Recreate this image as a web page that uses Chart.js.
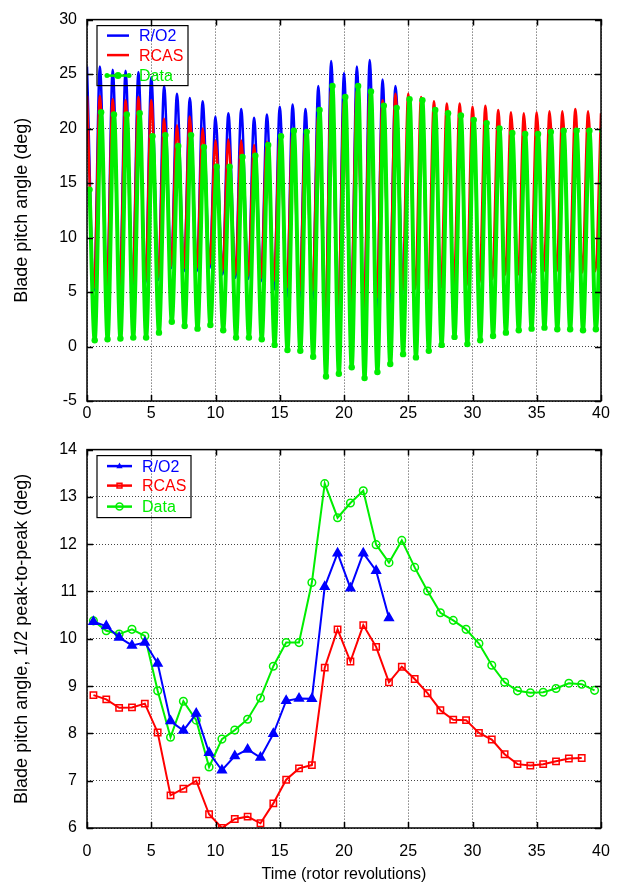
<!DOCTYPE html>
<html>
<head>
<meta charset="utf-8">
<script src="https://cdn.jsdelivr.net/npm/chart.js@4/dist/chart.umd.min.js"></script>
<style>
  body { margin: 0; background: #fff; }
  .wrap { position: absolute; left: 0; width: 624px; }
</style>
</head>
<body>
<div class="wrap" style="top:0;height:430px"><canvas id="pitchChart" width="624" height="430"></canvas></div>
<div class="wrap" style="top:430px;height:456px"><canvas id="ampChart" width="624" height="456"></canvas></div>
<script>
// pitch angle, top panel: one peak and one trough per rotor revolution (deg)
const ro2Peaks   = [25.7, 25.7, 25.4, 25.3, 25.2, 24.7, 23.9, 23.2, 22.8, 22.5, 21.1, 21.4, 21.8, 21.0, 21.3, 22.0, 22.2, 21.8, 23.9, 26.2, 25.1, 25.7, 26.3, 24.5, 23.9];
const ro2Troughs = [5.1, 5.1, 5.2, 5.5, 5.8, 6.1, 7.2, 6.9, 6.9, 7.2, 6.6, 6.3, 6.2, 6.0, 5.2, 4.5, 4.4, 4.15, 1.4, 2.4, 2.8, 2.0, 3.4, 3.7, 4.8];
const rcasPeaks   = [23.0, 23.0, 22.7, 22.6, 22.9, 22.6, 20.9, 20.3, 21.1, 20.0, 18.9, 19.0, 18.9, 18.5, 18.8, 19.4, 19.6, 19.7, 21.3, 23.6, 22.6, 23.5, 23.3, 22.6, 23.2, 23.2, 22.9, 22.5, 22.3, 22.3, 22.0, 22.1, 21.7, 21.5, 21.4, 21.5, 21.6, 21.6, 21.8, 21.6, 21.4];
const rcasTroughs = [5.4, 5.4, 5.5, 5.8, 6.0, 6.4, 7.4, 7.2, 7.2, 7.5, 6.9, 6.6, 6.5, 6.3, 6.0, 5.4, 5.1, 5.1, 2.8, 3.5, 3.8, 3.4, 4.45, 4.9, 5.1, 5.3, 5.3, 5.4, 5.5, 5.6, 5.9, 6.2, 6.6, 6.6, 6.8, 6.9, 6.9, 6.8, 6.8, 6.9];
const dataStart   = 14.4;
const dataPeaks   = [21.5, 21.3, 21.3, 21.4, 19.3, 19.4, 18.4, 19.4, 18.3, 16.5, 16.5, 17.4, 17.5, 18.5, 19.3, 19.8, 19.7, 21.7, 23.9, 22.9, 23.9, 23.4, 22.1, 21.9, 22.7, 22.6, 21.7, 21.4, 21.2, 20.8, 20.5, 20.0, 19.6, 19.5, 19.5, 19.7, 19.8, 19.8, 19.8, 19.8];
const dataTroughs = [0.58, 0.67, 0.73, 0.82, 0.82, 1.27, 2.27, 1.88, 1.64, 1.97, 1.49, 0.82, 0.82, 0.67, 0.15, -0.33, -0.39, -0.94, -2.75, -2.5, -1.9, -2.9, -2.35, -1.6, -0.7, -1.0, -0.4, 0.15, 0.88, 0.22, 0.58, 0.97, 1.27, 1.49, 1.64, 1.73, 1.58, 1.58, 1.49, 1.58];

// half peak-to-peak, bottom panel, one value per revolution (at rev + 0.5)
const ro2Amp  = [10.36, 10.27, 10.03, 9.86, 9.92, 9.48, 8.26, 8.06, 8.42, 7.59, 7.22, 7.52, 7.66, 7.49, 7.99, 8.69, 8.74, 8.73, 11.10, 11.81, 11.07, 11.81, 11.44, 10.44];
const rcasAmp = [8.81, 8.72, 8.54, 8.55, 8.63, 8.02, 6.69, 6.83, 7.00, 6.29, 6.00, 6.19, 6.24, 6.10, 6.52, 7.02, 7.26, 7.33, 9.39, 10.20, 9.52, 10.29, 9.83, 9.08, 9.41, 9.15, 8.85, 8.49, 8.29, 8.28, 8.01, 7.87, 7.56, 7.35, 7.32, 7.35, 7.41, 7.47, 7.48];
const dataAmp = [10.38, 10.17, 10.10, 10.20, 10.06, 8.90, 7.92, 8.68, 8.28, 7.29, 7.88, 8.07, 8.30, 8.75, 9.42, 9.92, 9.92, 11.19, 13.28, 12.56, 12.87, 13.13, 11.99, 11.61, 12.08, 11.51, 11.01, 10.55, 10.39, 10.20, 9.90, 9.44, 9.08, 8.90, 8.86, 8.87, 8.95, 9.06, 9.04, 8.91];

const xTicks = [0, 5, 10, 15, 20, 25, 30, 35, 40];

const FONT = 'Liberation Sans, Arial, Helvetica, sans-serif';
const BLUE = '#0000ff', RED = '#ff0000', GREEN = '#00ee00';

// peaks/troughs -> {x, y} points; peak i sits at rev i + peakPhase, trough i at rev i + troughPhase
function wave(peaks, peakPhase, peakFirst, troughs, troughPhase) {
  const pts = [];
  peaks.forEach((v, i) => pts.push({ x: i + peakFirst + peakPhase, y: v }));
  troughs.forEach((v, i) => pts.push({ x: i + troughPhase, y: v }));
  return pts.sort((a, b) => a.x - b.x);
}
function perRev(values) {
  return values.map((v, i) => ({ x: i + 0.5, y: v }));
}

function drawMarker(ctx, style, x, y, r, color) {
  ctx.save();
  ctx.strokeStyle = color; ctx.fillStyle = color; ctx.lineWidth = 1.5;
  ctx.beginPath();
  if (style === 'triangle') {
    ctx.moveTo(x, y - r); ctx.lineTo(x + r * 0.9, y + r * 0.6); ctx.lineTo(x - r * 0.9, y + r * 0.6); ctx.closePath(); ctx.fill();
  } else if (style === 'rect') {
    ctx.rect(x - r * 0.7, y - r * 0.7, r * 1.4, r * 1.4); ctx.stroke();
  } else {
    ctx.arc(x, y, r, 0, Math.PI * 2);
    if (style === 'dot') ctx.fill(); else ctx.stroke();
  }
  ctx.restore();
}

// box round the plot, inward ticks, legend inside the plot
const framePlugin = {
  id: 'frame',
  afterDatasetsDraw(chart, args, opts) {
    const { ctx, chartArea: a, scales } = chart;
    ctx.save();
    ctx.strokeStyle = '#000';
    ctx.lineWidth = 1.5;
    ctx.strokeRect(a.left, a.top, a.width, a.height);
    ctx.beginPath();
    scales.x.ticks.forEach(t => {
      const px = Math.round(scales.x.getPixelForValue(t.value)) + 0.5;
      ctx.moveTo(px, a.bottom); ctx.lineTo(px, a.bottom - 6);
      ctx.moveTo(px, a.top); ctx.lineTo(px, a.top + 6);
    });
    scales.y.ticks.forEach(t => {
      const py = Math.round(scales.y.getPixelForValue(t.value)) + 0.5;
      ctx.moveTo(a.left, py); ctx.lineTo(a.left + 6, py);
      ctx.moveTo(a.right, py); ctx.lineTo(a.right - 6, py);
    });
    ctx.stroke();

    const lg = opts.legend;
    const bx = a.left + lg.x, by = a.top + lg.y;
    ctx.lineWidth = 1.2;
    ctx.strokeRect(bx, by, lg.w, lg.h);
    ctx.font = '16px ' + FONT;
    ctx.textBaseline = 'middle';
    chart.data.datasets.forEach((ds, i) => {
      const ly = by + lg.rows[i];
      ctx.strokeStyle = ds.borderColor;
      ctx.lineWidth = 2.5;
      ctx.beginPath(); ctx.moveTo(bx + 10, ly); ctx.lineTo(bx + 10 + lg.lineW, ly); ctx.stroke();
      if (lg.markers[i]) drawMarker(ctx, lg.markers[i], bx + 10 + lg.lineW / 2, ly, 3.5, ds.borderColor);
      if (lg.markers[i] === 'dot') {
        drawMarker(ctx, 'dot', bx + 10, ly, 2.5, ds.borderColor);
        drawMarker(ctx, 'dot', bx + 10 + lg.lineW, ly, 2.5, ds.borderColor);
      }
      ctx.fillStyle = ds.borderColor;
      ctx.fillText(ds.label, bx + lg.textX, ly + 1);
    });
    ctx.restore();
  }
};

function xScale(height, tickPad, withTitle) {
  return {
    type: 'linear', min: 0, max: 40,
    afterBuildTicks: s => { s.ticks = xTicks.map(v => ({ value: v })); },
    afterFit: s => { s.height = height; },
    grid: { color: '#444', lineWidth: 1, drawTicks: false },
    border: { display: false, dash: [1, 2] },
    ticks: { color: '#000', padding: tickPad, font: { family: FONT, size: 16 } },
    title: { display: withTitle, text: 'Time (rotor revolutions)', color: '#000', padding: { top: 0, bottom: 2 }, font: { family: FONT, size: 16 } }
  };
}
function yScale(min, max, step, title) {
  return {
    min: min, max: max,
    afterFit: s => { s.width = 87; },
    grid: { color: '#444', lineWidth: 1, drawTicks: false },
    border: { display: false, dash: [1, 2] },
    ticks: { stepSize: step, color: '#000', padding: 10, font: { family: FONT, size: 16 } },
    title: { display: true, text: title, color: '#000', padding: { top: 11, bottom: 0 }, font: { family: FONT, size: 18 } }
  };
}

new Chart(document.getElementById('pitchChart'), {
  type: 'line',
  data: {
    datasets: [
      { label: 'R/O2', data: wave(ro2Peaks, 0, 0, ro2Troughs, 0.55), borderColor: BLUE, borderWidth: 2.5, pointRadius: 0, order: 3 },
      { label: 'RCAS', data: wave(rcasPeaks, 0, 0, rcasTroughs, 0.55), borderColor: RED, borderWidth: 2.5, pointRadius: 0, order: 2 },
      { label: 'Data', data: [{ x: 0.2, y: dataStart }].concat(wave(dataPeaks, 0.1, 1, dataTroughs, 0.6)),
        borderColor: GREEN, borderWidth: 4, pointRadius: 3.2, pointBackgroundColor: GREEN, pointBorderWidth: 0, order: 1 }
    ]
  },
  options: {
    responsive: false, animation: false,
    layout: { padding: { top: 16, right: 23, left: 0, bottom: 0 } },
    elements: { line: { cubicInterpolationMode: 'monotone' } },
    scales: { x: xScale(29, 3, false), y: yScale(-5, 30, 5, 'Blade pitch angle (deg)') },
    plugins: {
      legend: { display: false }, tooltip: { enabled: false },
      frame: { legend: { x: 10, y: 6, w: 91, h: 60, rows: [10, 29.5, 50], lineW: 22, textX: 42, markers: [null, null, 'dot'] } }
    }
  },
  plugins: [framePlugin]
});

new Chart(document.getElementById('ampChart'), {
  type: 'line',
  data: {
    datasets: [
      { label: 'R/O2', data: perRev(ro2Amp), borderColor: BLUE, borderWidth: 2, pointStyle: 'triangle', pointRadius: 4.5, pointBackgroundColor: BLUE, pointBorderColor: BLUE },
      { label: 'RCAS', data: perRev(rcasAmp), borderColor: RED, borderWidth: 2, pointStyle: 'rect', pointRadius: 4.5, pointBackgroundColor: 'rgba(255,255,255,0)', pointBorderColor: RED, pointBorderWidth: 1.5 },
      { label: 'Data', data: perRev(dataAmp), borderColor: GREEN, borderWidth: 2, pointStyle: 'circle', pointRadius: 3.8, pointBackgroundColor: 'rgba(255,255,255,0)', pointBorderColor: GREEN, pointBorderWidth: 1.5 }
    ]
  },
  options: {
    responsive: false, animation: false,
    layout: { padding: { top: 13, right: 23, left: 0, bottom: 0 } },
    scales: { x: xScale(58, 14, true), y: yScale(6, 14, 1, 'Blade pitch angle, 1/2 peak-to-peak (deg)') },
    plugins: {
      legend: { display: false }, tooltip: { enabled: false },
      frame: { legend: { x: 10, y: 6, w: 94, h: 62, rows: [10.5, 30, 51], lineW: 25, textX: 45, markers: ['triangle', 'rect', 'circle'] } }
    }
  },
  plugins: [framePlugin]
});
</script>
</body>
</html>
